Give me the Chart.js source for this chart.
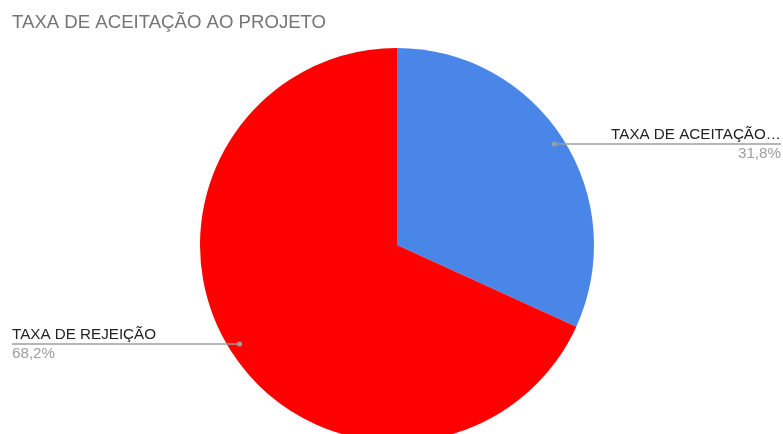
<!DOCTYPE html>
<html>
<head>
<meta charset="utf-8">
<script src="https://cdn.jsdelivr.net/npm/chart.js@4"></script>
<style>
  html, body { margin: 0; padding: 0; background: #fff; overflow: hidden; }
  #wrap { width: 783px; height: 500px; }
</style>
</head>
<body>
<div id="wrap"><canvas id="pieChart" width="783" height="500"></canvas></div>
<script>
const chartTitle = 'TAXA DE ACEITAÇÃO AO PROJETO';
const sliceLabels = ['TAXA DE ACEITAÇÃO AO PROJETO', 'TAXA DE REJEIÇÃO'];
const sliceValues = [31.8, 68.2];
const sliceColors = ['#4a86e8', '#ff0000'];

const FONT = 'Arial, "Liberation Sans", sans-serif';

function fitText(ctx, text, maxWidth) {
    if (ctx.measureText(text).width <= maxWidth) return text;
    let t = text;
    while (t.length > 1 && ctx.measureText(t + '…').width > maxWidth) {
        t = t.slice(0, -1);
    }
    return t.trimEnd() + '…';
}

// title + leader-line labels, Google Sheets style
const labelPlugin = {
    id: 'sheetLabels',
    afterDraw(chart) {
        const ctx = chart.ctx;
        const total = sliceValues.reduce((a, b) => a + b, 0);
        ctx.save();

        ctx.font = '18.6px ' + FONT;
        ctx.fillStyle = '#757575';
        ctx.textAlign = 'left';
        ctx.textBaseline = 'alphabetic';
        ctx.fillText(chartTitle, 12, 28);

        const arcs = chart.getDatasetMeta(0).data;
        arcs.forEach((arc, i) => {
            const mid = (arc.startAngle + arc.endAngle) / 2;
            const r = arc.outerRadius * 0.95;
            const px = arc.x + Math.cos(mid) * r;
            const py = Math.round(arc.y + Math.sin(mid) * r) - (i === 1 ? 2 : 0);
            const right = Math.cos(mid) >= 0;
            const endX = right ? 781 : 12;

            ctx.strokeStyle = '#9e9e9e';
            ctx.lineWidth = 1.5;
            ctx.beginPath();
            ctx.moveTo(px, py);
            ctx.lineTo(endX, py);
            ctx.stroke();

            ctx.fillStyle = '#9e9e9e';
            ctx.beginPath();
            ctx.arc(px, py, 2.5, 0, Math.PI * 2);
            ctx.fill();

            ctx.textAlign = right ? 'right' : 'left';
            ctx.font = '15.2px ' + FONT;
            ctx.fillStyle = '#222222';
            ctx.fillText(fitText(ctx, sliceLabels[i], 175), endX, py - 5);

            const pct = (sliceValues[i] / total * 100).toFixed(1).replace('.', ',') + '%';
            ctx.fillStyle = '#9e9e9e';
            ctx.fillText(pct, endX, py + 14);
        });
        ctx.restore();
    }
};

new Chart(document.getElementById('pieChart'), {
    type: 'pie',
    data: {
        labels: sliceLabels,
        datasets: [{
            data: sliceValues,
            backgroundColor: sliceColors,
            borderWidth: 0
        }]
    },
    options: {
        responsive: false,
        animation: false,
        layout: {
            padding: { left: 200, right: 189, top: 48, bottom: 58 }
        },
        plugins: {
            legend: { display: false },
            tooltip: { enabled: false }
        }
    },
    plugins: [labelPlugin]
});
</script>
</body>
</html>
